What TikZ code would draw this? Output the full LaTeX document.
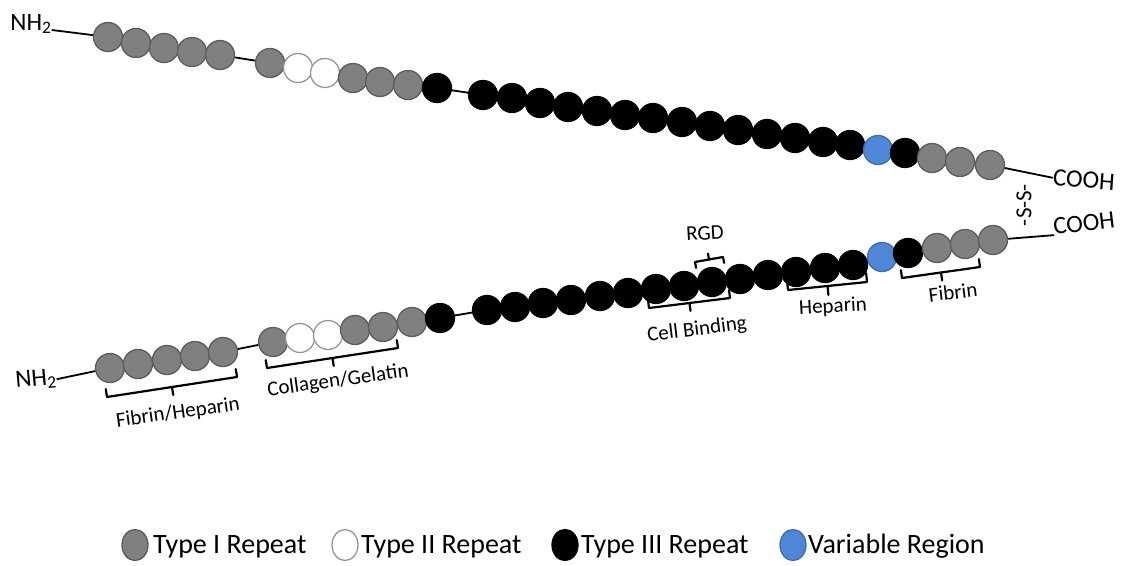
\documentclass[tikz,border=0pt]{standalone}
\usepackage{fontspec}
\setmainfont{Carlito}
\usetikzlibrary{calc,shapes.geometric}
\definecolor{grayfill}{RGB}{128,128,128}
\definecolor{grayline}{RGB}{92,92,92}
\definecolor{whiteline}{RGB}{150,150,150}
\definecolor{bluefill}{RGB}{79,134,214}
\definecolor{blueline}{RGB}{62,108,178}
\newcommand\mybrk[3]{%
  \coordinate (bA) at (#1);
  \coordinate (bB) at (#2);
  \coordinate (bM) at ($(bA)!0.5!(bB)$);
  \draw[brk] ($(bA)!#3!90:(bB)$) -- (bA) -- (bB) -- ($(bB)!#3!-90:(bA)$);
  \draw[brk] (bM) -- ($(bM)!#3!-90:(bB)$);
}
\begin{document}
\begin{tikzpicture}[x=1pt,y=-1pt,
  bead/.style={circle, minimum size=29pt, inner sep=0pt, line width=1.3pt},
  tI/.style={bead, fill=grayfill, draw=grayline},
  tII/.style={bead, fill=white, draw=whiteline},
  tIII/.style={bead, fill=black, draw=black},
  tV/.style={bead, fill=bluefill, draw=blueline},
  chainline/.style={line width=1.8pt, black},
  brk/.style={line width=2.2pt, black, line cap=round, line join=round},
  lbl/.style={font=\fontsize{21pt}{23pt}\selectfont, inner sep=0pt},
  endlbl/.style={font=\fontsize{25pt}{27pt}\selectfont, inner sep=0pt},
  leg/.style={font=\fontsize{28pt}{30pt}\selectfont, inner sep=0pt, anchor=base west},
  legdot/.style={ellipse, minimum width=26pt, minimum height=31pt, inner sep=0pt, line width=1.3pt}
]
\useasboundingbox (0,0) rectangle (1131,565);

% ---------- top chain ----------
\foreach \x/\y/\s [count=\i] in {
  108/37/tI, 136/43/tI, 164/48/tI, 192/52/tI, 220/55/tI,
  270/63/tI, 298/68/tII, 325/73/tII, 353/78/tI, 380/82/tI, 408/85/tI, 437/88/tIII,
  483/95/tIII, 512/98/tIII, 540/103/tIII, 568/107/tIII, 597/111/tIII, 625/115/tIII, 653/118/tIII,
  682/122/tIII, 710/126/tIII, 738/130/tIII, 767/134/tIII, 795/138/tIII, 823/142/tIII, 850/145/tIII,
  878/150/tV, 905/153/tIII, 932/158/tI, 960/162/tI, 990/165/tI}
  {\coordinate (tc\i) at (\x,\y);}
\node[endlbl, anchor=center] (nhT) at (31,24) {NH\textsubscript{2}};
\node[endlbl, anchor=center, rotate=-4] (coT) at (1084,180) {COOH};
\draw[chainline] ([yshift=-6pt]nhT.east) -- (tc1) \foreach \i in {2,...,31} {-- (tc\i)} -- (coT.west);
\foreach \x/\y/\s [count=\i] in {
  108/37/tI, 136/43/tI, 164/48/tI, 192/52/tI, 220/55/tI,
  270/63/tI, 298/68/tII, 325/73/tII, 353/78/tI, 380/82/tI, 408/85/tI, 437/88/tIII,
  483/95/tIII, 512/98/tIII, 540/103/tIII, 568/107/tIII, 597/111/tIII, 625/115/tIII, 653/118/tIII,
  682/122/tIII, 710/126/tIII, 738/130/tIII, 767/134/tIII, 795/138/tIII, 823/142/tIII, 850/145/tIII,
  878/150/tV, 905/153/tIII, 932/158/tI, 960/162/tI, 990/165/tI}
  {\node[\s] (t\i) at (\x,\y) {};}

% ---------- bottom chain ----------
\foreach \x/\y/\s [count=\i] in {
  110/368/tI, 138/364/tI, 167/360/tI, 195/356/tI, 223/352/tI,
  273/342/tI, 300/338/tII, 328/335/tII, 355/330/tI, 383/327/tI, 412/322/tI, 440/318/tIII,
  487/310/tIII, 515/307/tIII, 543/303/tIII, 571/300/tIII, 600/296/tIII, 628/293/tIII, 656/289/tIII,
  684/286/tIII, 712/282/tIII, 740/279/tIII, 768/275/tIII, 796/272/tIII, 825/268/tIII, 853/265/tIII,
  882/257/tV, 908/253/tIII, 937/248/tI, 965/244/tI, 993/240/tI}
  {\coordinate (bc\i) at (\x,\y);}
\node[endlbl, anchor=center, rotate=5] (nhB) at (36,380) {NH\textsubscript{2}};
\node[endlbl, anchor=center, rotate=7] (coB) at (1084,223) {COOH};
\draw[chainline] ([yshift=-1pt]nhB.east) -- (bc1) \foreach \i in {2,...,31} {-- (bc\i)} -- (coB.south west);
\foreach \x/\y/\s [count=\i] in {
  110/368/tI, 138/364/tI, 167/360/tI, 195/356/tI, 223/352/tI,
  273/342/tI, 300/338/tII, 328/335/tII, 355/330/tI, 383/327/tI, 412/322/tI, 440/318/tIII,
  487/310/tIII, 515/307/tIII, 543/303/tIII, 571/300/tIII, 600/296/tIII, 628/293/tIII, 656/289/tIII,
  684/286/tIII, 712/282/tIII, 740/279/tIII, 768/275/tIII, 796/272/tIII, 825/268/tIII, 853/265/tIII,
  882/257/tV, 908/253/tIII, 937/248/tI, 965/244/tI, 993/240/tI}
  {\node[\s] (b\i) at (\x,\y) {};}

% disulfide
\node[lbl, rotate=90, font=\fontsize{23pt}{25pt}\selectfont] (ss) at (1024,205) {-S-S-};

% ---------- brackets and labels ----------
\mybrk{107,397}{237,377}{8pt}
\node[lbl, rotate=8] (lfh) at (178,413) {Fibrin/Heparin};
\mybrk{267,368}{398,348}{8pt}
\node[lbl, rotate=8] (lcg) at (338,381) {Collagen/Gelatin};
\mybrk{649,308}{730,298}{8pt}
\node[lbl, rotate=7] (lcb) at (697,330) {Cell Binding};
\mybrk{695,262}{723,257}{-6pt}
\node[lbl, rotate=3] (lrgd) at (705,233) {RGD};
\mybrk{788,290}{867,282}{9pt}
\node[lbl, rotate=3] (lhep) at (833,307) {Heparin};
\mybrk{902,278}{980,267}{8pt}
\node[lbl, rotate=7] (lfib) at (953,292) {Fibrin};

% ---------- legend ----------
\node[legdot, fill=grayfill, draw=grayline] (k1) at (135,545) {};
\node[leg] (k1t) at (153,553) {Type I Repeat};
\node[legdot, fill=white, draw=whiteline] (k2) at (345,545) {};
\node[leg] (k2t) at (361,553) {Type II Repeat};
\node[legdot, fill=black, draw=black] (k3) at (565,545) {};
\node[leg] (k3t) at (581,553) {Type III Repeat};
\node[legdot, fill=bluefill, draw=blueline] (k4) at (793,545) {};
\node[leg] (k4t) at (808,553) {Variable Region};
\end{tikzpicture}
\end{document}
